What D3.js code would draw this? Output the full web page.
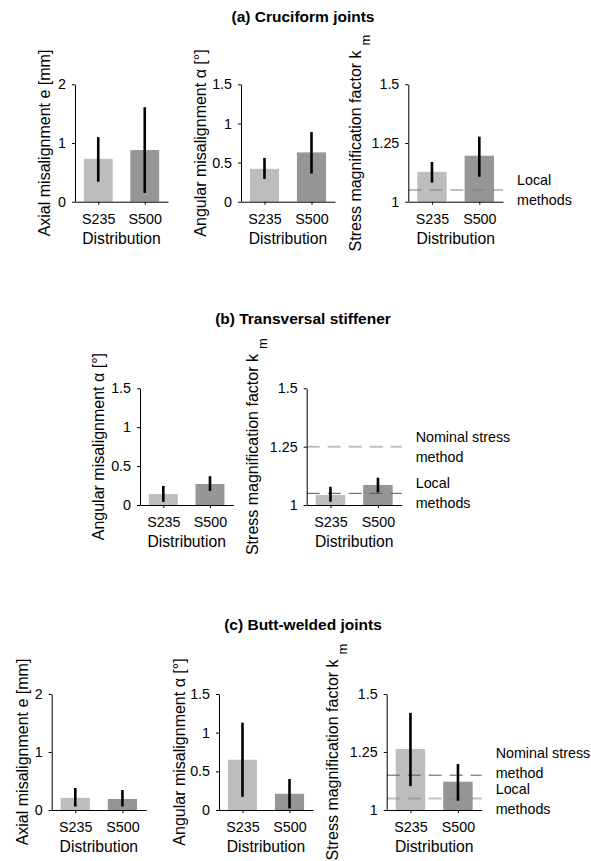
<!DOCTYPE html>
<html>
<head>
<meta charset="utf-8">
<script src="https://cdn.jsdelivr.net/npm/d3@7"></script>
<style>
  body { margin: 0; background: #fff; }
  svg text { font-family: "Liberation Sans", Arial, sans-serif; fill: #000; }
</style>
</head>
<body>
<svg id="chart" width="591" height="861"></svg>
<script>
// Categories shared by all panels
const categories = ['S235', 'S500'];

// (a) Cruciform joints
const axialCruciform = [0.73, 0.88];
const axialCruciformLow = [0.34, 0.15];
const axialCruciformHigh = [1.10, 1.61];
const angularCruciform = [0.42, 0.63];
const angularCruciformLow = [0.29, 0.36];
const angularCruciformHigh = [0.56, 0.89];
const kmCruciform = [1.127, 1.196];
const kmCruciformLow = [1.081, 1.106];
const kmCruciformHigh = [1.169, 1.277];
const cruciformRefValues = [1.05];
const cruciformRefLabels = [['Local', 'methods']];

// (b) Transversal stiffener
const angularStiffener = [0.14, 0.27];
const angularStiffenerLow = [0.04, 0.18];
const angularStiffenerHigh = [0.245, 0.37];
const kmStiffener = [1.043, 1.086];
const kmStiffenerLow = [1.014, 1.054];
const kmStiffenerHigh = [1.078, 1.117];
const stiffenerRefValues = [1.25, 1.05];
const stiffenerRefLabels = [['Nominal stress', 'method'], ['Local', 'methods']];

// (c) Butt-welded joints
const axialButt = [0.21, 0.19];
const axialButtLow = [0.06, 0.06];
const axialButtHigh = [0.38, 0.345];
const angularButt = [0.65, 0.21];
const angularButtLow = [0.17, 0.02];
const angularButtHigh = [1.13, 0.40];
const kmButt = [1.263, 1.122];
const kmButtLow = [1.103, 1.04];
const kmButtHigh = [1.419, 1.198];
const buttRefValues = [1.15, 1.05];
const buttRefLabels = [['Nominal stress', 'method'], ['Local', 'methods']];

// Axis settings
const axialTicks = [0, 1, 2];
const angularTicks = [0, 0.5, 1, 1.5];
const kmTicks = [1, 1.25, 1.5];

const titles = ['(a) Cruciform joints', '(b) Transversal stiffener', '(c) Butt-welded joints'];

const svg = d3.select('#chart');
const barColors = ['#bdbdbd', '#969696'];
const refStyles = {
  light: { stroke: '#808080', opacity: 0.5, width: 2 },
  dark: { stroke: '#555', opacity: 1, width: 1 }
};

// Titles
[22, 324, 630].forEach((y, i) => {
  svg.append('text')
    .attr('x', 303).attr('y', y)
    .attr('text-anchor', 'middle')
    .style('font-size', '15.5px')
    .style('font-weight', 'bold')
    .text(titles[i]);
});

const panels = [
  { x0: 75, x1: 168, yTop: 84.3, yBot: 201.7, domain: [0, 2], ticks: axialTicks,
    values: axialCruciform, low: axialCruciformLow, high: axialCruciformHigh,
    label: 'Axial misalignment e [mm]', labelOff: 31 },
  { x0: 241, x1: 335, yTop: 84.3, yBot: 201.7, domain: [0, 1.5], ticks: angularTicks,
    values: angularCruciform, low: angularCruciformLow, high: angularCruciformHigh,
    label: 'Angular misalignment \u03b1 [\u00b0]', labelOff: 41 },
  { x0: 408.3, x1: 503, yTop: 84.3, yBot: 201.7, domain: [1, 1.5], ticks: kmTicks,
    values: kmCruciform, low: kmCruciformLow, high: kmCruciformHigh,
    label: 'Stress magnification factor k', sub: 'm', labelOff: 53,
    refs: cruciformRefValues, refLabels: cruciformRefLabels, refStyle: ['light'], refShift: [0] },

  { x0: 140, x1: 233.3, yTop: 388.3, yBot: 505, domain: [0, 1.5], ticks: angularTicks,
    values: angularStiffener, low: angularStiffenerLow, high: angularStiffenerHigh,
    label: 'Angular misalignment \u03b1 [\u00b0]', labelOff: 42 },
  { x0: 306.7, x1: 401.7, yTop: 388.3, yBot: 505, domain: [1, 1.5], ticks: kmTicks,
    values: kmStiffener, low: kmStiffenerLow, high: kmStiffenerHigh,
    label: 'Stress magnification factor k', sub: 'm', labelOff: 54,
    refs: stiffenerRefValues, refLabels: stiffenerRefLabels, refStyle: ['light', 'dark'], refShift: [0, 0] },

  { x0: 51.7, x1: 146, yTop: 694, yBot: 810, domain: [0, 2], ticks: axialTicks,
    values: axialButt, low: axialButtLow, high: axialButtHigh,
    label: 'Axial misalignment e [mm]', labelOff: 29 },
  { x0: 219, x1: 313, yTop: 694, yBot: 810, domain: [0, 1.5], ticks: angularTicks,
    values: angularButt, low: angularButtLow, high: angularButtHigh,
    label: 'Angular misalignment \u03b1 [\u00b0]', labelOff: 40 },
  { x0: 386.7, x1: 481.7, yTop: 694, yBot: 810, domain: [1, 1.5], ticks: kmTicks,
    values: kmButt, low: kmButtLow, high: kmButtHigh,
    label: 'Stress magnification factor k', sub: 'm', labelOff: 54,
    refs: buttRefValues, refLabels: buttRefLabels, refStyle: ['dark', 'light'], refShift: [-12, 1] }
];

function drawPanel(p) {
  const g = svg.append('g');
  const x = d3.scaleLinear().domain([0.5, 2.5]).range([p.x0, p.x1]);
  const y = d3.scaleLinear().domain(p.domain).range([p.yBot, p.yTop]);
  const barW = 0.62;

  // bars
  g.selectAll('rect.bar')
    .data(p.values)
    .enter().append('rect')
    .attr('class', 'bar')
    .attr('x', (d, i) => x(i + 1 - barW / 2))
    .attr('width', x(barW) - x(0))
    .attr('y', d => y(d))
    .attr('height', d => y(p.domain[0]) - y(d))
    .attr('fill', (d, i) => barColors[i]);

  // reference lines (design methods)
  (p.refs || []).forEach((v, i) => {
    const st = refStyles[p.refStyle[i]];
    g.append('line')
      .attr('x1', p.x0).attr('x2', p.x1)
      .attr('y1', y(v)).attr('y2', y(v))
      .attr('stroke', st.stroke)
      .attr('stroke-opacity', st.opacity)
      .attr('stroke-width', st.width)
      .attr('stroke-dasharray', '13,8');
    const lines = p.refLabels[i];
    const cy = y(v) + p.refShift[i];
    lines.forEach((t, j) => {
      g.append('text')
        .attr('x', p.x1 + 14)
        .attr('y', cy + (j - (lines.length - 1) / 2) * 20)
        .attr('dy', '0.35em')
        .style('font-size', '14.3px')
        .text(t);
    });
  });

  // error bars
  g.selectAll('line.err')
    .data(p.values)
    .enter().append('line')
    .attr('class', 'err')
    .attr('x1', (d, i) => x(i + 1)).attr('x2', (d, i) => x(i + 1))
    .attr('y1', (d, i) => y(p.low[i]))
    .attr('y2', (d, i) => y(p.high[i]))
    .attr('stroke', '#000')
    .attr('stroke-width', 2.6);

  // axes
  const yAxis = g.append('g')
    .attr('transform', `translate(${p.x0},0)`)
    .call(d3.axisLeft(y).tickValues(p.ticks).tickSize(3).tickSizeOuter(0).tickPadding(6)
      .tickFormat(d => String(d)));
  const xAxis = g.append('g')
    .attr('transform', `translate(0,${p.yBot})`)
    .call(d3.axisBottom(x).tickValues([1, 2]).tickSize(3).tickSizeOuter(0).tickPadding(9)
      .tickFormat(d => categories[d - 1]));
  [yAxis, xAxis].forEach(a => {
    a.selectAll('text').style('font-size', '14.3px').attr('fill', '#000')
      .style('font-family', '"Liberation Sans", Arial, sans-serif');
    a.selectAll('path, line').attr('stroke', '#000');
  });

  // x label
  g.append('text')
    .attr('x', (p.x0 + p.x1) / 2)
    .attr('y', p.yBot + 42)
    .attr('text-anchor', 'middle')
    .style('font-size', '15.7px')
    .text('Distribution');

  // y label
  const cx = p.x0 - p.labelOff;
  const cy = (p.yTop + p.yBot) / 2;
  const lab = g.append('text')
    .attr('transform', `translate(${cx},${cy}) rotate(-90)`)
    .attr('text-anchor', 'middle')
    .attr('dy', '0.35em')
    .style('font-size', '16px')
    .text(p.label);
  if (p.sub) {
    lab.append('tspan')
      .attr('dx', 5).attr('dy', 9)
      .style('font-size', '13px')
      .text(p.sub);
  }
}

panels.forEach(drawPanel);
</script>
</body>
</html>
